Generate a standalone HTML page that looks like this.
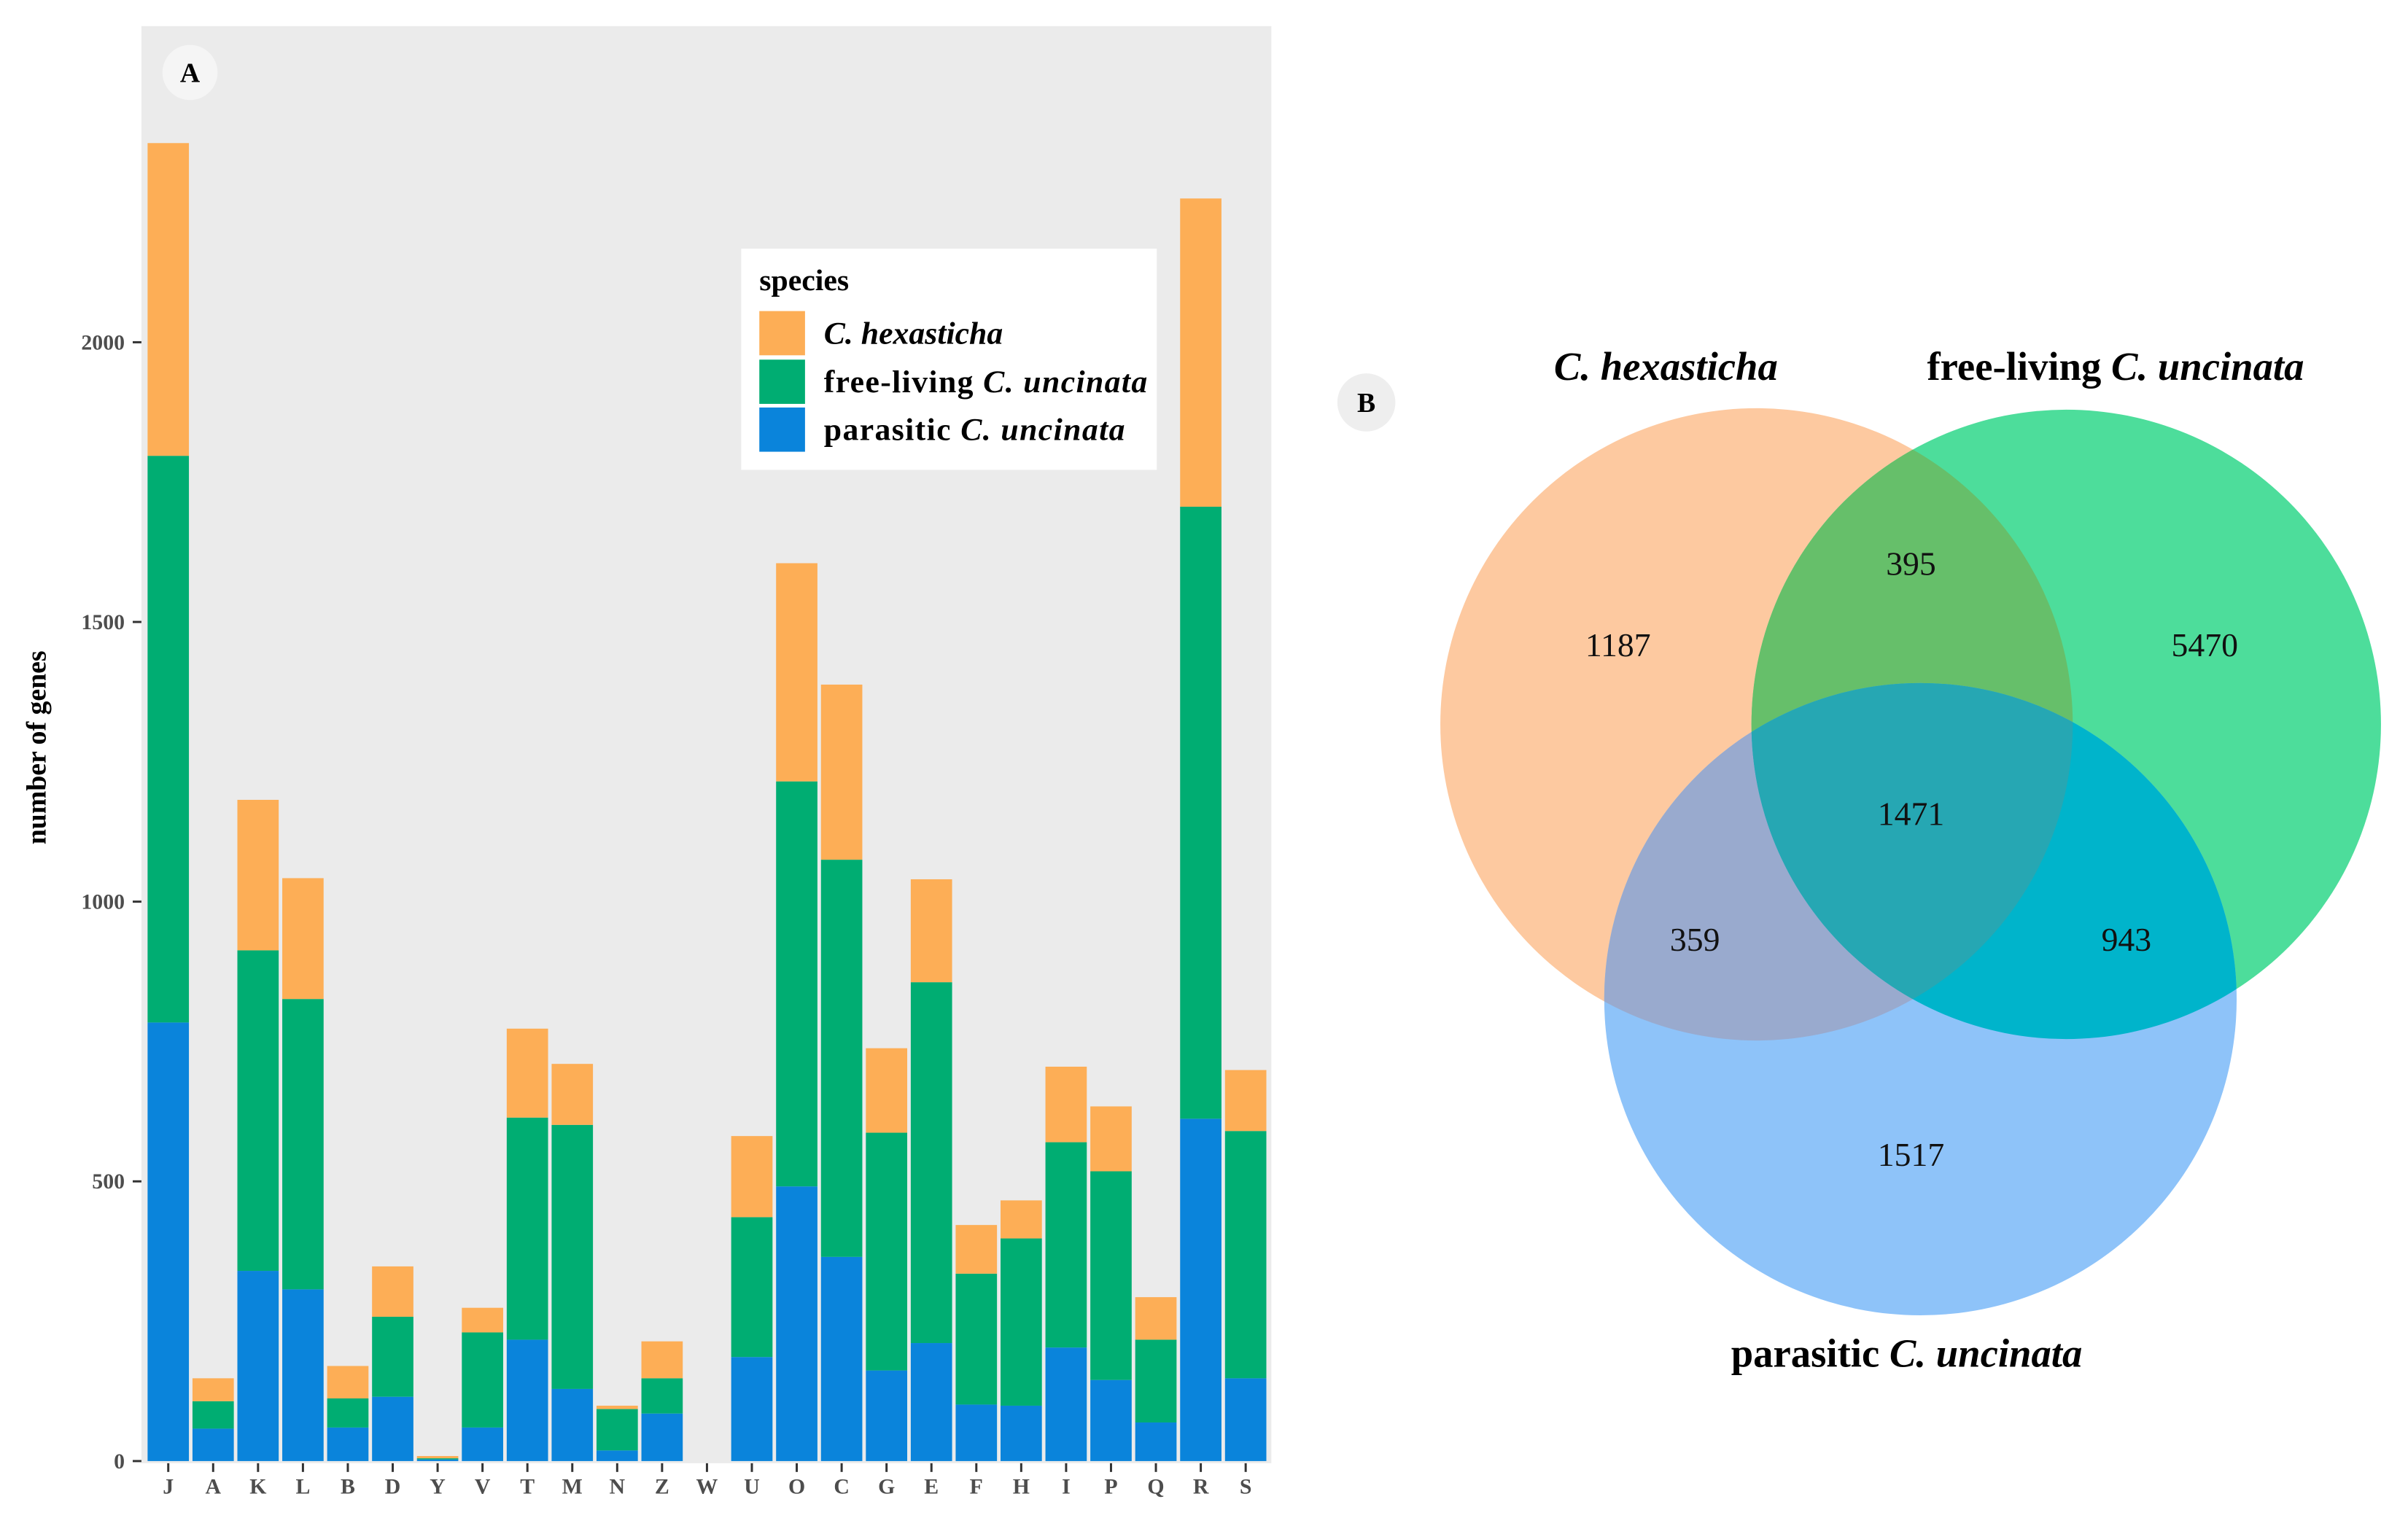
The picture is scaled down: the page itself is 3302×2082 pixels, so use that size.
<!DOCTYPE html>
<html><head><meta charset="utf-8"><style>
html,body{margin:0;padding:0;background:#fff;}
svg{display:block;font-family:"Liberation Serif",serif;}
</style></head><body>
<svg id="fig" width="3302" height="2082" viewBox="0 0 3302 2082" xmlns="http://www.w3.org/2000/svg">
<g transform="scale(0.9945)">
<g id="panelA">
<rect x="195" y="36" width="1558" height="1982" fill="#ebebeb"/>
<g id="bars"></g>
<g id="yaxis"></g>
<g id="xaxis"></g>
<text x="51" y="1031" transform="rotate(-90 51 1031)" text-anchor="middle" dominant-baseline="central" font-size="38" font-weight="bold">number of genes</text>
<circle cx="262" cy="100" r="38" fill="#f5f5f5"/>
<text x="262" y="113" text-anchor="middle" font-size="38" font-weight="bold">A</text>
<g>
<rect x="1022" y="343" width="573" height="305" fill="#fff"/>
<text x="1047" y="400" font-size="42" font-weight="bold">species</text>
<rect x="1047" y="429" width="63" height="61" fill="#fdae56"/>
<rect x="1047" y="496" width="63" height="61" fill="#00ad72"/>
<rect x="1047" y="562" width="63" height="61" fill="#0a84db"/>
<text x="1136" y="474" font-size="44" font-weight="bold" font-style="italic">C. hexasticha</text>
<text x="1136" y="541" font-size="44" font-weight="bold" textLength="446">free-living <tspan font-style="italic">C. uncinata</tspan></text>
<text x="1136" y="607" font-size="44" font-weight="bold" textLength="415">parasitic <tspan font-style="italic">C. uncinata</tspan></text>
</g>
</g>
<g id="panelB">
<defs>
<clipPath id="cO"><circle cx="2422" cy="999" r="436"/></clipPath>
<clipPath id="cG"><circle cx="2849" cy="999" r="434"/></clipPath>
</defs>
<circle cx="2422" cy="999" r="436" fill="#fdc9a0"/>
<circle cx="2849" cy="999" r="434" fill="#4ddd9b"/>
<circle cx="2849" cy="999" r="434" fill="#66bf6a" clip-path="url(#cO)"/>
<circle cx="2648" cy="1378" r="436" fill="#8ec3f9"/>
<circle cx="2648" cy="1378" r="436" fill="#99aace" clip-path="url(#cO)"/>
<circle cx="2648" cy="1378" r="436" fill="#00b4cb" clip-path="url(#cG)"/>
<g clip-path="url(#cO)"><circle cx="2648" cy="1378" r="436" fill="#26a7b3" clip-path="url(#cG)"/></g>
<g font-size="46" text-anchor="middle" fill="#111">
<text x="2231" y="905">1187</text>
<text x="2635" y="793">395</text>
<text x="3040" y="905">5470</text>
<text x="2635" y="1138">1471</text>
<text x="2337" y="1311">359</text>
<text x="2932" y="1311">943</text>
<text x="2635" y="1608">1517</text>
</g>
<g font-size="55" font-weight="bold" text-anchor="middle">
<text x="2297" y="524" font-style="italic">C. hexasticha</text>
<text x="2917" y="524">free-living <tspan font-style="italic">C. uncinata</tspan></text>
<text x="2629" y="1885">parasitic <tspan font-style="italic">C. uncinata</tspan></text>
</g>
<circle cx="1884" cy="555" r="40" fill="#eeeeee"/>
<text x="1884" y="568" text-anchor="middle" font-size="38" font-weight="bold">B</text>
</g>
</g>
</svg>
<script>
const categories = ["J","A","K","L","B","D","Y","V","T","M","N","Z","W","U","O","C","G","E","F","H","I","P","Q","R","S"];
const parasitic = [784,58,340,307,60,115,3,60,217,129,19,85,0,186,491,365,162,211,101,99,203,145,69,612,148];
const freeLiving = [1013,49,573,519,52,143,2,170,397,472,74,63,0,250,724,710,425,645,234,299,367,373,148,1094,442];
const hexasticha = [559,41,269,216,58,90,4,44,159,109,6,66,0,145,390,313,151,184,87,68,135,116,76,551,109];
const yTicks = [0,500,1000,1500,2000];
const colors = {p:"#0a84db", f:"#00ad72", h:"#fdae56"};
const NS = "http://www.w3.org/2000/svg";
const y0 = 2015, perUnit = 0.7715;
const xStart = 232, pitch = 61.9, barW = 57;
function yScale(v){ return y0 - v*perUnit; }
function xScale(i){ return xStart + i*pitch; }
const barsG = document.getElementById('bars');
function mk(tag, attrs, parent){ const e=document.createElementNS(NS,tag); for(const k in attrs) e.setAttribute(k, attrs[k]); parent.appendChild(e); return e; }
categories.forEach((c,i)=>{
  const segs = [[parasitic[i],colors.p,'parasitic'],[freeLiving[i],colors.f,'free-living'],[hexasticha[i],colors.h,'hexasticha']];
  let base = 0;
  segs.forEach(s=>{
    if(s[0]<=0) return;
    const top = base + s[0];
    const r = mk('rect',{x:xScale(i)-barW/2, y:yScale(top), width:barW, height:yScale(base)-yScale(top), fill:s[1]}, barsG);
    
    
    base = top;
  });
});
const yG = document.getElementById('yaxis');
yTicks.forEach(t=>{
  const y = yScale(t);
  const l = mk('line',{x1:183,x2:195,y1:y,y2:y,stroke:'#333','stroke-width':3}, yG);
  
  
  const tx = mk('text',{x:172,y:y+10,'text-anchor':'end','font-size':30,'font-weight':'bold',fill:'#4d4d4d'}, yG);
  tx.textContent = t;
  
  
});
const xG = document.getElementById('xaxis');
categories.forEach((c,i)=>{
  const x = xScale(i);
  const l = mk('line',{x1:x,x2:x,y1:2018,y2:2030,stroke:'#333','stroke-width':3}, xG);
  
  
  const tx = mk('text',{x:x,y:2060,'text-anchor':'middle','font-size':30,'font-weight':'bold',fill:'#4d4d4d'}, xG);
  tx.textContent = c;
  
  
});
</script>
</body></html>
